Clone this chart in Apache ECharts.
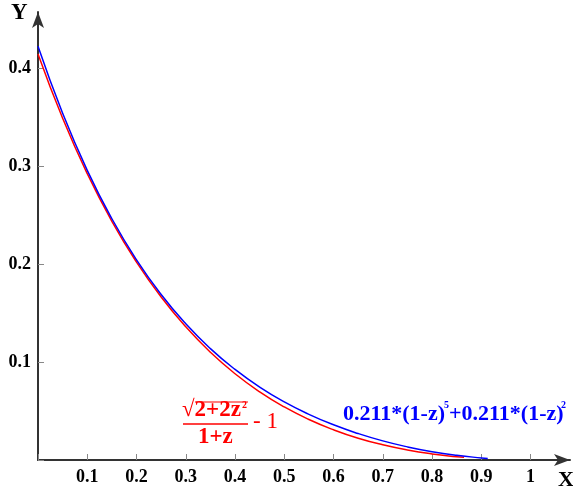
<!DOCTYPE html>
<html><head><meta charset="utf-8">
<script src="https://cdn.jsdelivr.net/npm/echarts@6/dist/echarts.min.js"></script>
<style>html,body{margin:0;padding:0;background:#fff}#c{width:573px;height:490px}</style>
</head><body><div id="c"></div>
<script>
var redX = [0,0.05,0.1,0.15,0.2,0.25,0.3,0.35,0.4,0.45,0.5,0.55,0.6,0.65,0.7,0.75,0.8,0.85,0.865];
var redY = [0.4142,0.3486,0.2921,0.2435,0.2019,0.1662,0.1358,0.1099,0.0880,0.0695,0.0541,0.0413,0.0308,0.0222,0.0155,0.0102,0.0062,0.0033,0.0027];
var blueX = [0,0.05,0.1,0.15,0.2,0.25,0.3,0.35,0.4,0.45,0.5,0.55,0.6,0.65,0.7,0.75,0.8,0.85,0.9,0.913];
var blueY = [0.422,0.3537,0.2955,0.2461,0.2042,0.1688,0.1389,0.1136,0.0924,0.0744,0.0593,0.0466,0.0359,0.0270,0.0195,0.0134,0.0085,0.0048,0.0021,0.0016];
var xTickLabels = ['0.1','0.2','0.3','0.4','0.5','0.6','0.7','0.8','0.9','1'];
var yTickLabels = ['0.1','0.2','0.3','0.4'];

function pairs(xs, ys){ return xs.map(function(x,i){return [x, ys[i]];}); }
function fmt(list){ return function(v){ var s = String(Math.round(v*10)/10); return list.indexOf(s) >= 0 ? s : ''; }; }

var FONT = 'Liberation Serif';
function T(left, top, text, size, color, bold){
  return {type: 'text', left: left, top: top, style: {text: text, fontFamily: FONT, fontSize: size, fontWeight: bold ? 'bold' : 'normal', fill: color}};
}
var chart = echarts.init(document.getElementById('c'));
chart.setOption({
  animation: false,
  grid: {left: 38, right: 3, top: 12, bottom: 30},
  xAxis: {
    type: 'value', min: 0, max: 1.08, interval: 0.1,
    splitLine: {show: false},
    axisLine: {lineStyle: {color: '#333', width: 2}, symbol: ['none','arrow'], symbolSize: [9, 16]},
    axisTick: {inside: true, length: 6, lineStyle: {color: '#888', width: 1}},
    axisLabel: {formatter: fmt(xTickLabels), showMaxLabel: false, color: '#000', fontFamily: FONT, fontWeight: 'bold', fontSize: 18, margin: 8}
  },
  yAxis: {
    type: 'value', min: 0, max: 0.457, interval: 0.1,
    splitLine: {show: false},
    axisLine: {lineStyle: {color: '#333', width: 2}, symbol: ['none','arrow'], symbolSize: [9, 16]},
    axisTick: {inside: true, length: 6, lineStyle: {color: '#888', width: 1}},
    axisLabel: {formatter: fmt(yTickLabels), showMaxLabel: false, color: '#000', fontFamily: FONT, fontWeight: 'bold', fontSize: 18, margin: 7}
  },
  series: [
    {type: 'line', data: pairs(redX, redY), smooth: true, showSymbol: false, lineStyle: {color: '#ff0000', width: 1.5}},
    {type: 'line', data: pairs(blueX, blueY), smooth: true, showSymbol: false, lineStyle: {color: '#0000ff', width: 1.5}}
  ],
  graphic: [
    T(11, 2, 'Y', 23, '#000', true),
    T(558, 469, 'X', 22, '#000', true),
    T(182, 399, '√2+2z', 23, '#ff0000', true),
    T(242, 400, '2', 10, '#ff0000', true),
    {type: 'line', shape: {x1: 195, y1: 402, x2: 248, y2: 402}, style: {stroke: '#ff0000', lineWidth: 1.2}},
    {type: 'line', shape: {x1: 183, y1: 424, x2: 248, y2: 424}, style: {stroke: '#ff0000', lineWidth: 1.5}},
    T(198, 426, '1+z', 23, '#ff0000', true),
    T(253, 410, '- 1', 23, '#ff0000', false),
    T(343, 403, '0.211*(1-z)', 22, '#0000ff', true),
    T(444, 400, '5', 10, '#0000ff', true),
    T(449, 403, '+0.211*(1-z)', 22, '#0000ff', true),
    T(561, 400, '2', 10, '#0000ff', true)
  ]
});
</script></body></html>
